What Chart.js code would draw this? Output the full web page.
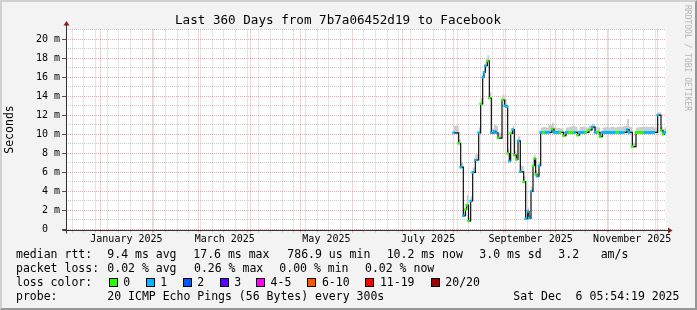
<!DOCTYPE html>
<html><head><meta charset="utf-8">
<script src="https://cdn.jsdelivr.net/npm/chart.js@4/dist/chart.umd.min.js"></script>
<style>
html,body{margin:0;padding:0;}
body{width:697px;height:310px;overflow:hidden;background:#f3f3f3;position:relative;font-family:"DejaVu Sans Mono",monospace;}
#c{position:absolute;left:0;top:0;}
#frame{position:absolute;left:0;top:0;width:697px;height:310px;box-sizing:border-box;border-top:2px solid #d0d0d0;border-left:2px solid #d0d0d0;border-right:2px solid #969696;border-bottom:2px solid #969696;pointer-events:none;}
.t{position:absolute;white-space:pre;font-size:11.5px;line-height:14px;color:#000;}
.title{position:absolute;white-space:pre;font-size:12.6px;line-height:15px;color:#000;}
.box{position:absolute;width:7px;height:7px;border:1px solid #000;}
.wm{position:absolute;left:683px;top:5px;writing-mode:vertical-rl;font-size:8px;line-height:9px;color:#b4b4b4;white-space:pre;}
</style></head>
<body>
<canvas id="c" width="697" height="310"></canvas>
<div id="frame"></div>
<div class="title" style="left:175px;top:12px">Last 360 Days from 7b7a06452d19 to Facebook</div>
<div class="wm">RRDTOOL / TOBI OETIKER</div>
<div id="legend"></div>
<script>
// ---- time frame ----
const START_UTC = Date.UTC(2024, 11, 11, 5, 54, 19); // 360 days before Sat Dec 6 05:54:19 2025
const RANGE_DAYS = 360;

// ---- axis labels ----
const monthLabels = ['January 2025','March 2025','May 2025','July 2025','September 2025','November 2025'];
const monthLabelMonths = [[2025,0],[2025,2],[2025,4],[2025,6],[2025,8],[2025,10]];
const yMax = 21;

// ---- series: day offset from start, median rtt (ms), loss count, smoke band (ms) ----
const dayOffsets = [
 232.5,235.6,236.8,238.4,239.7,240.4,241.5,242.8,244.0,245.6,247.6,248.8,250.0,250.8,251.6,252.8,254.0,
 255.2,256.8,258.0,259.2,261.6,263.2,264.4,265.0,266.0,266.8,268.0,269.0,270.2,271.2,272.6,274.6,275.8,
 277.0,277.8,279.0,280.2,281.1,281.8,282.6,283.8,
 284.8,286.5,288.0,289.5,291.6,292.8,294.5,296.5,298.5,300.0,301.8,303.5,305.2,306.9,308.1,310.0,311.8,
 313.8,315.6,317.4,319.0,320.4,321.9,323.5,325.2,327.0,328.8,330.5,332.3,334.5,336.6,337.8,339.8,342.0,
 343.8,345.5,347.2,349.0,350.8,352.6,355.0,357.0,358.2,359.1,360.0
];
const medianRtt = [
 10.15,9.05,6.55,1.45,2.1,2.55,0.9,3.0,6.0,7.3,10.15,13.2,16.0,16.5,17.2,17.7,13.8,
 10.15,10.3,10.15,9.6,13.6,13.0,12.9,8.0,7.2,10.1,10.5,7.8,7.35,9.3,6.06,5.0,1.15,
 1.9,1.2,4.0,6.7,7.45,5.8,5.6,6.7,
 10.2,10.2,10.2,10.2,10.55,10.2,10.2,10.2,9.85,10.2,10.2,10.2,10.2,9.9,10.2,10.2,10.2,
 10.45,10.75,10.2,10.2,9.75,10.2,10.2,10.2,10.2,10.2,10.2,10.2,10.2,10.5,10.2,8.7,10.2,
 10.2,10.2,10.2,10.2,10.2,10.2,12.0,10.4,10.0,10.2,10.2
];
const lossCount = [
 1,0,1,1,0,0,0,1,1,1,1,0,1,1,1,0,0,
 1,1,1,0,0,1,1,0,1,0,1,0,0,1,1,0,1,
 1,1,1,0,0,0,1,1,
 1,0,1,1,0,1,1,0,0,1,0,0,1,0,1,1,0,
 0,1,1,0,0,1,1,1,1,1,0,1,1,1,1,0,0,
 0,0,1,1,1,1,1,0,0,1,1
];
const smokeHigh = [
 10.9,9.5,7.1,1.8,2.5,3.6,1.2,3.5,6.5,7.9,10.7,13.8,16.4,16.9,17.6,18.3,14.4,
 10.6,11.0,10.9,10.1,14.1,13.7,13.2,8.5,7.6,10.6,10.9,8.3,7.8,9.8,6.7,5.6,1.5,
 2.3,1.5,4.5,7.3,7.9,6.2,6.0,7.1,
 10.7,10.75,10.7,11.0,11.2,10.7,10.65,10.6,10.3,10.7,10.8,10.9,10.8,10.4,10.75,10.8,10.7,
 10.9,11.1,10.8,10.7,10.3,10.7,10.75,10.7,10.8,10.7,10.75,10.8,10.9,11.6,10.8,9.1,10.7,
 10.75,10.8,10.8,10.75,10.8,10.7,12.3,10.8,10.5,10.7,10.7
];
const smokeLow = [
 10.0,8.9,6.4,1.3,2.0,2.4,0.8,2.9,5.9,7.2,10.0,13.1,15.9,16.4,17.1,17.6,13.7,
 10.0,10.2,10.0,9.5,13.5,12.9,12.8,7.9,7.1,10.0,10.4,7.7,7.2,9.2,6.0,4.9,1.0,
 1.8,1.1,3.9,6.6,7.3,5.7,5.5,6.6,
 10.1,10.1,10.1,10.1,10.4,10.1,10.1,10.1,9.8,10.1,10.1,10.1,10.1,9.8,10.1,10.1,10.1,
 10.3,10.6,10.1,10.1,9.7,10.1,10.1,10.1,10.1,10.1,10.1,10.1,10.1,10.4,10.1,8.6,10.1,
 10.1,10.1,10.1,10.1,10.1,10.1,11.9,10.3,9.9,10.1,10.1
];

// ---- loss colour legend ----
const lossLabels = ['0','1','2','3','4-5','6-10','11-19','20/20'];
const lossColors = ['#26ff00','#00b8ff','#0059ff','#5e00ff','#ff00ff','#ff5500','#ff0000','#a10000'];

// ---- legend text ----
const rttItems = ['median rtt:','9.4 ms avg','17.6 ms max','786.9 us min','10.2 ms now','3.0 ms sd','3.2','am/s'];
const lossItems = ['packet loss:','0.02 % avg','0.26 % max','0.00 % min','0.02 % now'];
const probeText = '20 ICMP Echo Pings (56 Bytes) every 300s';
const dateText = 'Sat Dec  6 05:54:19 2025';

// ---------- helpers ----------
const dayOf = (y,m,d) => (Date.UTC(y,m,d) - START_UTC) / 86400000;
const MAJOR = 'rgba(228,110,110,0.6)';
const MINOR = 'rgba(160,160,160,0.55)';

// grid ticks: month starts (major) and Sundays (minor)
const gridTicks = [];
for (let y = 2024, m = 11; y < 2026; ) {
  const d = dayOf(y, m, 1);
  if (d > 0 && d < RANGE_DAYS) gridTicks.push({value: d, major: true});
  m++; if (m > 11) { m = 0; y++; }
}
for (let t = Date.UTC(2024, 11, 15); t < START_UTC + RANGE_DAYS*86400000; t += 7*86400000) {
  const d = (t - START_UTC)/86400000;
  if (!gridTicks.some(g => Math.abs(g.value - d) < 0.01)) gridTicks.push({value: d, major: false});
}
gridTicks.sort((a,b)=>a.value-b.value);
const labelTicks = monthLabelMonths.map(([y,m]) => ({value: (dayOf(y,m,1) + dayOf(m===11?y+1:y,(m+1)%12,1))/2}));

const medianPts = dayOffsets.map((d,i)=>({x:d, y:medianRtt[i]}));

const decor = {
  id: 'decor',
  beforeDraw(chart) {
    const {ctx, chartArea: a} = chart;
    ctx.save(); ctx.fillStyle = '#ffffff';
    ctx.fillRect(a.left, a.top, a.right - a.left, a.bottom - a.top);
    ctx.restore();
  },
  afterDraw(chart) {
    const {ctx, chartArea: a} = chart;
    const xL = Math.round(a.left) + 0.5, yB = Math.round(a.bottom) + 0.5;
    ctx.save();
    ctx.strokeStyle = '#303030'; ctx.lineWidth = 1;
    ctx.beginPath(); ctx.moveTo(xL, yB + 3); ctx.lineTo(xL, a.top - 5); ctx.stroke();
    ctx.beginPath(); ctx.moveTo(xL - 4, yB); ctx.lineTo(a.right + 3, yB); ctx.stroke();
    ctx.fillStyle = '#7f1f1f';
    ctx.beginPath(); ctx.moveTo(xL - 3, a.top - 4); ctx.lineTo(xL + 3, a.top - 4); ctx.lineTo(xL, a.top - 8.5); ctx.closePath(); ctx.fill();
    ctx.beginPath(); ctx.moveTo(a.right + 2, yB - 3); ctx.lineTo(a.right + 2, yB + 3); ctx.lineTo(a.right + 6.5, yB); ctx.closePath(); ctx.fill();
    ctx.restore();
  }
};

new Chart(document.getElementById('c'), {
  type: 'line',
  data: {
    datasets: [
      {label:'smoke', data: dayOffsets.map((d,i)=>({x:d,y:smokeHigh[i]})), stepped:true, borderWidth:0, pointRadius:0,
       fill:{target:1}, backgroundColor:'rgba(200,200,200,0.9)', order:3},
      {label:'smokeLow', data: dayOffsets.map((d,i)=>({x:d,y:smokeLow[i]})), stepped:true, borderWidth:0, pointRadius:0,
       fill:false, order:3},
      {label:'median', data: medianPts, stepped:true, borderColor:'#101010', borderWidth:1.2, pointRadius:0, fill:false, order:2},
      {label:'median loss', data: medianPts, stepped:true, borderWidth:2.6, fill:false, order:1,
       segment:{borderColor: c => c.p0.parsed.y === c.p1.parsed.y ? lossColors[lossCount[c.p0DataIndex]] : 'rgba(0,0,0,0)'},
       pointStyle:'rect', pointRadius:1.8, pointBorderWidth:0,
       pointBackgroundColor: lossCount.map(l=>lossColors[l])}
    ]
  },
  options: {
    responsive:false, animation:false, devicePixelRatio:1,
    layout:{padding:{left:0, top:29.5, right:31, bottom:56.5}},
    plugins:{legend:{display:false}, tooltip:{enabled:false}, title:{display:false}},
    scales:{
      x:{type:'linear', min:0, max:RANGE_DAYS, position:'bottom', weight:0,
         afterBuildTicks: s => { s.ticks = gridTicks.map(t=>({value:t.value, major:t.major})); },
         ticks:{display:false, autoSkip:false},
         grid:{color: c => (c.tick && c.tick.major) ? MAJOR : MINOR, lineWidth:1, drawTicks:true, tickLength:3,
               tickColor: c => (c.tick && c.tick.major) ? MAJOR : MINOR},
         border:{display:false, dash:[1,1]},
         afterFit: s => { s.height = 4; }},
      xl:{type:'linear', min:0, max:RANGE_DAYS, position:'bottom', weight:1,
         afterBuildTicks: s => { s.ticks = labelTicks.map(t=>({value:t.value})); },
         ticks:{autoSkip:false, maxRotation:0, minRotation:0, padding:0, color:'#000',
                font:{family:'DejaVu Sans Mono', size:10},
                callback:(v,i)=>monthLabels[i]},
         grid:{display:false, drawTicks:false}, border:{display:false},
         afterFit: s => { s.height = 20; }},
      y:{type:'linear', min:0, max:yMax, position:'left',
         afterBuildTicks: s => { const t=[]; for(let v=0; v<=yMax; v++) t.push({value:v}); s.ticks=t; },
         ticks:{autoSkip:false, padding:2, color:'#000', font:{family:'DejaVu Sans Mono', size:10},
                callback: v => v===0 ? '0  ' : (v%2===0 ? v+' m' : '')},
         grid:{color: c => (c.tick && c.tick.value%2===0) ? MAJOR : MINOR, lineWidth:1, drawTicks:true, tickLength:4,
               tickColor: c => (c.tick && c.tick.value%2===0) ? '#505050' : 'rgba(0,0,0,0)'},
         border:{display:false, dash:[1,1]},
         title:{display:true, text:'Seconds', color:'#000', font:{family:'DejaVu Sans Mono', size:11.5}, padding:{top:3,bottom:0}},
         afterFit: s => { s.width = 66; }}
    }
  },
  plugins:[decor]
});

// ---------- legend (HTML text) ----------
const lg = document.getElementById('legend');
function txt(s, x, yc){ const d=document.createElement('div'); d.className='t'; d.textContent=s; d.style.left=x+'px'; d.style.top=(yc-7)+'px'; lg.appendChild(d); }
const rttX = [16,107.3,193.3,287.3,386.7,479.3,558.3,600.7];
rttItems.forEach((s,i)=>txt(s, rttX[i], 254.3));
const lossX = [16,107.3,194,279.3,365];
lossItems.forEach((s,i)=>txt(s, lossX[i], 268.3));
txt('loss color:', 16, 282.3);
const boxX = [108.7,145.7,182.7,219.7,256,307.3,365.3,430.7];
lossLabels.forEach((s,i)=>{
  const b=document.createElement('div'); b.className='box'; b.style.left=boxX[i]+'px'; b.style.top='278px'; b.style.background=lossColors[i]; lg.appendChild(b);
  txt(s, boxX[i]+14.6, 282.3);
});
txt('probe:', 16, 296);
txt(probeText, 107.3, 296);
txt(dateText, 513.3, 296);
</script>
</body></html>
